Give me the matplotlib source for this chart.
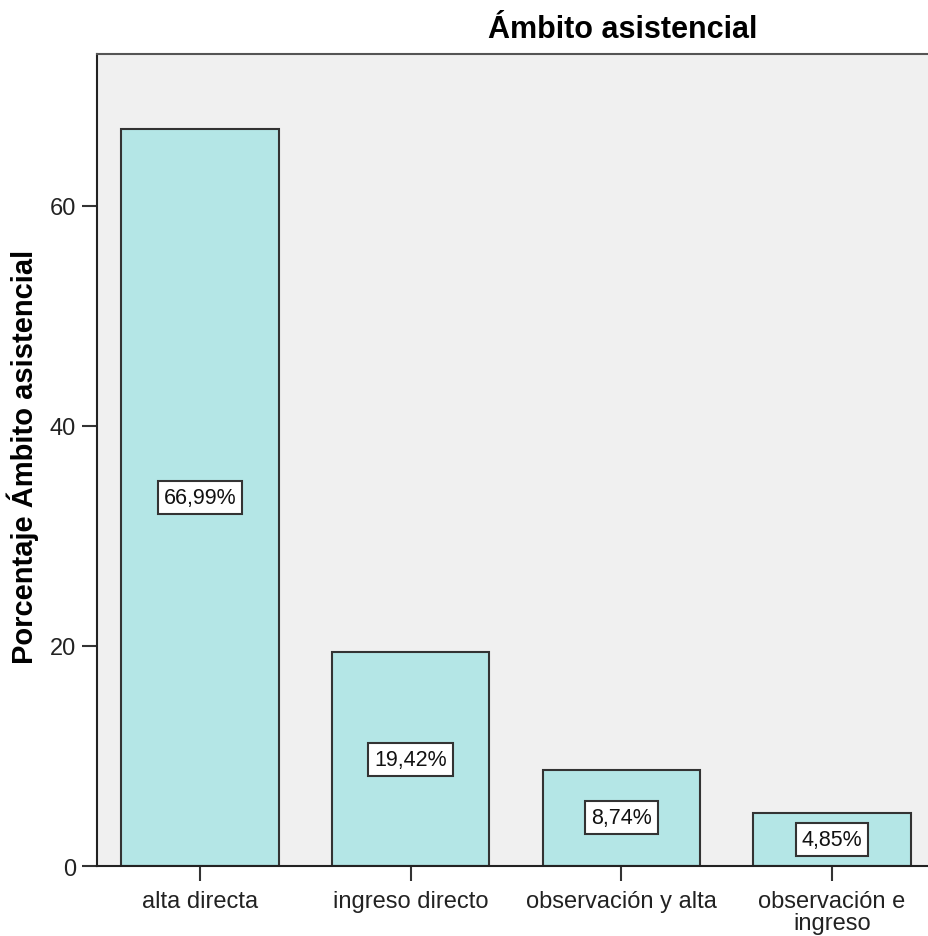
import matplotlib.pyplot as plt

categories = ["alta directa", "ingreso directo", "observación y alta", "observación e\ningreso"]
porcentajes = [66.99, 19.42, 8.74, 4.85]
etiquetas = ["66,99%", "19,42%", "8,74%", "4,85%"]
y_ticks = [0, 20, 40, 60]

plt.rcParams['font.family'] = ['Liberation Sans', 'DejaVu Sans']

fig = plt.figure(figsize=(9.29, 9.37), dpi=100)
ax = fig.add_axes([0.1044, 0.0747, 0.902, 0.8666])
ax.set_facecolor("#f0f0f0")

x = range(len(categories))
ax.bar(x, porcentajes, width=0.746, color="#b4e6e6", edgecolor="#333333", linewidth=1.5, zorder=2)

for i, (v, t) in enumerate(zip(porcentajes, etiquetas)):
    ax.text(i, v / 2, t, ha="center", va="center", fontsize=15.5, zorder=3, color="#111111",
            bbox=dict(boxstyle="square,pad=0.28", facecolor="white", edgecolor="#333333", linewidth=1.5))

ax.set_xlim(-0.489, 3.489)
ax.set_ylim(0, 73.8)
ax.set_xticks(list(x))
ax.set_xticklabels(categories, fontsize=17, color="#222222", linespacing=1.05)
ax.set_yticks(y_ticks)
ax.set_yticklabels([str(v) for v in y_ticks], fontsize=17, color="#222222")
ax.tick_params(axis="both", direction="out", length=11, width=1.5, color="#333333", pad=4)
ax.tick_params(axis="x", pad=6)

for side in ["left", "bottom"]:
    ax.spines[side].set_color("#222222")
    ax.spines[side].set_linewidth(1.5)
ax.spines["top"].set_color("#555555")
ax.spines["top"].set_linewidth(1.5)
ax.spines["right"].set_visible(False)

ax.set_ylabel("Porcentaje Ámbito asistencial", fontsize=21, fontweight="bold")
ax.yaxis.set_label_coords(-0.069, 0.505)
fig.text(623 / 929, 1 - 30 / 937, "Ámbito asistencial", ha="center", va="center",
         fontsize=22, fontweight="bold")

fig.savefig("out.png", dpi=100)
